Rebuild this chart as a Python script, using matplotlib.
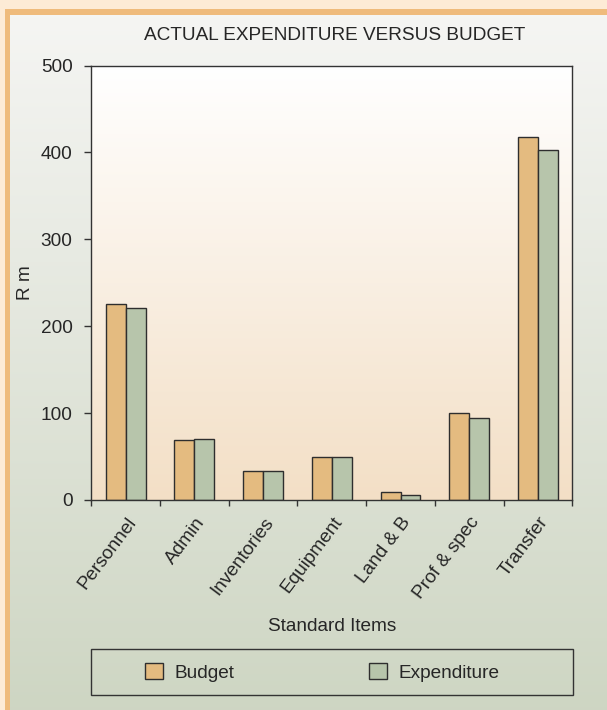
import matplotlib
matplotlib.use('Agg')
import matplotlib.pyplot as plt
import matplotlib.transforms as mtransforms
from matplotlib.patches import Rectangle
import numpy as np

plt.rcParams['font.family'] = ['Liberation Sans', 'DejaVu Sans']

# data
categories = ['Personnel', 'Admin', 'Inventories', 'Equipment', 'Land & B', 'Prof & spec', 'Transfer']
budget = [225, 68.5, 33, 49.5, 9.5, 100.5, 417.5]
expenditure = [221, 70.5, 33, 49.5, 5.5, 94, 403]
yticks = [0, 100, 200, 300, 400, 500]

W, H = 607, 710
TXT = '#262626'
EDGE = '#2e2e2e'
C_BUDGET = '#e4bb80'
C_EXP = '#b7c5ab'
FS = 13.7

fig = plt.figure(figsize=(W / 100, H / 100), dpi=100, facecolor='#fdebd6')

# background: orange frame + grey/green gradient panel
bg = fig.add_axes([0, 0, 1, 1], zorder=-10)
bg.add_patch(Rectangle((5, 9), W - 5, H - 9, facecolor='#efbb7c', edgecolor='none', zorder=0))
top_c = np.array([0.961, 0.961, 0.953])
bot_c = np.array([0.808, 0.839, 0.765])
t = np.linspace(0, 1, 256)[:, None, None]
grad = top_c * (1 - t) + bot_c * t
bg.imshow(grad, extent=(10, W, H, 15), aspect='auto', interpolation='bilinear', zorder=1)
bg.set_xlim(0, W)
bg.set_ylim(H, 0)
bg.axis('off')

# main plot
ax = fig.add_axes([91.3 / W, 1 - 500 / H, 481 / W, 434.5 / H])
x = np.arange(len(categories))

p_top = np.array([1.0, 1.0, 1.0])
p_bot = np.array([0.953, 0.875, 0.776])
grad2 = p_top * (1 - t) + p_bot * t
ax.imshow(grad2, extent=(-0.5, len(categories) - 0.5, 0, 500), aspect='auto',
          interpolation='bilinear', zorder=0)

bw = 0.29
b1 = ax.bar(x - bw / 2, budget, bw, color=C_BUDGET, edgecolor=EDGE, linewidth=1.0,
            label='Budget', zorder=2)
b2 = ax.bar(x + bw / 2, expenditure, bw, color=C_EXP, edgecolor=EDGE, linewidth=1.0,
            label='Expenditure', zorder=2)
ax.set_xlim(-0.5, len(categories) - 0.5)
ax.set_ylim(0, 500)

for s in ax.spines.values():
    s.set_color('#333333')
    s.set_linewidth(1.0)

ax.set_yticks(yticks)
ax.set_yticklabels([str(v) for v in yticks], fontsize=FS, color=TXT)
ax.tick_params(axis='y', length=5, width=1, color='#333333', pad=8.5)

ax.set_xticks(x)
ax.set_xticklabels(categories, fontsize=FS, color=TXT, rotation=53, ha='right', va='top')
ax.tick_params(axis='x', which='major', length=0, pad=10)
ax.set_xticks(np.arange(len(categories) + 1) - 0.5, minor=True)
ax.tick_params(axis='x', which='minor', length=4, width=1, color='#333333')
shift = mtransforms.ScaledTranslation(14 / 100, 0, fig.dpi_scale_trans)
for lab in ax.get_xticklabels():
    lab.set_transform(lab.get_transform() + shift)

ax.set_xlabel('Standard Items', fontsize=FS, color=TXT, va='center')
ax.xaxis.set_label_coords(0.5, (500 - 626.7) / 434.5)
ax.set_ylabel('R m', fontsize=FS, color=TXT, va='center', ha='center')
ax.yaxis.set_label_coords((26 - 91.3) / 481, 0.5)

fig.text(335 / W, 1 - 36 / H, 'ACTUAL EXPENDITURE VERSUS BUDGET', fontsize=FS,
         color=TXT, ha='center', va='center')

# legend box
bg.add_patch(Rectangle((91.3, 649.3), 481.3, 46, facecolor='none', edgecolor='#333333',
                       linewidth=1.0, zorder=3))
fig.legend(handles=[b1, b2], labels=['Budget', 'Expenditure'], ncol=2, frameon=False,
           loc='center left', bbox_to_anchor=(145.3 / W, 1 - 672.3 / H),
           borderpad=0, borderaxespad=0, fontsize=FS, labelcolor=TXT,
           handlelength=0.92, handleheight=0.92, handletextpad=0.6, columnspacing=7.1)

fig.savefig('out.png', dpi=100, facecolor=fig.get_facecolor())
